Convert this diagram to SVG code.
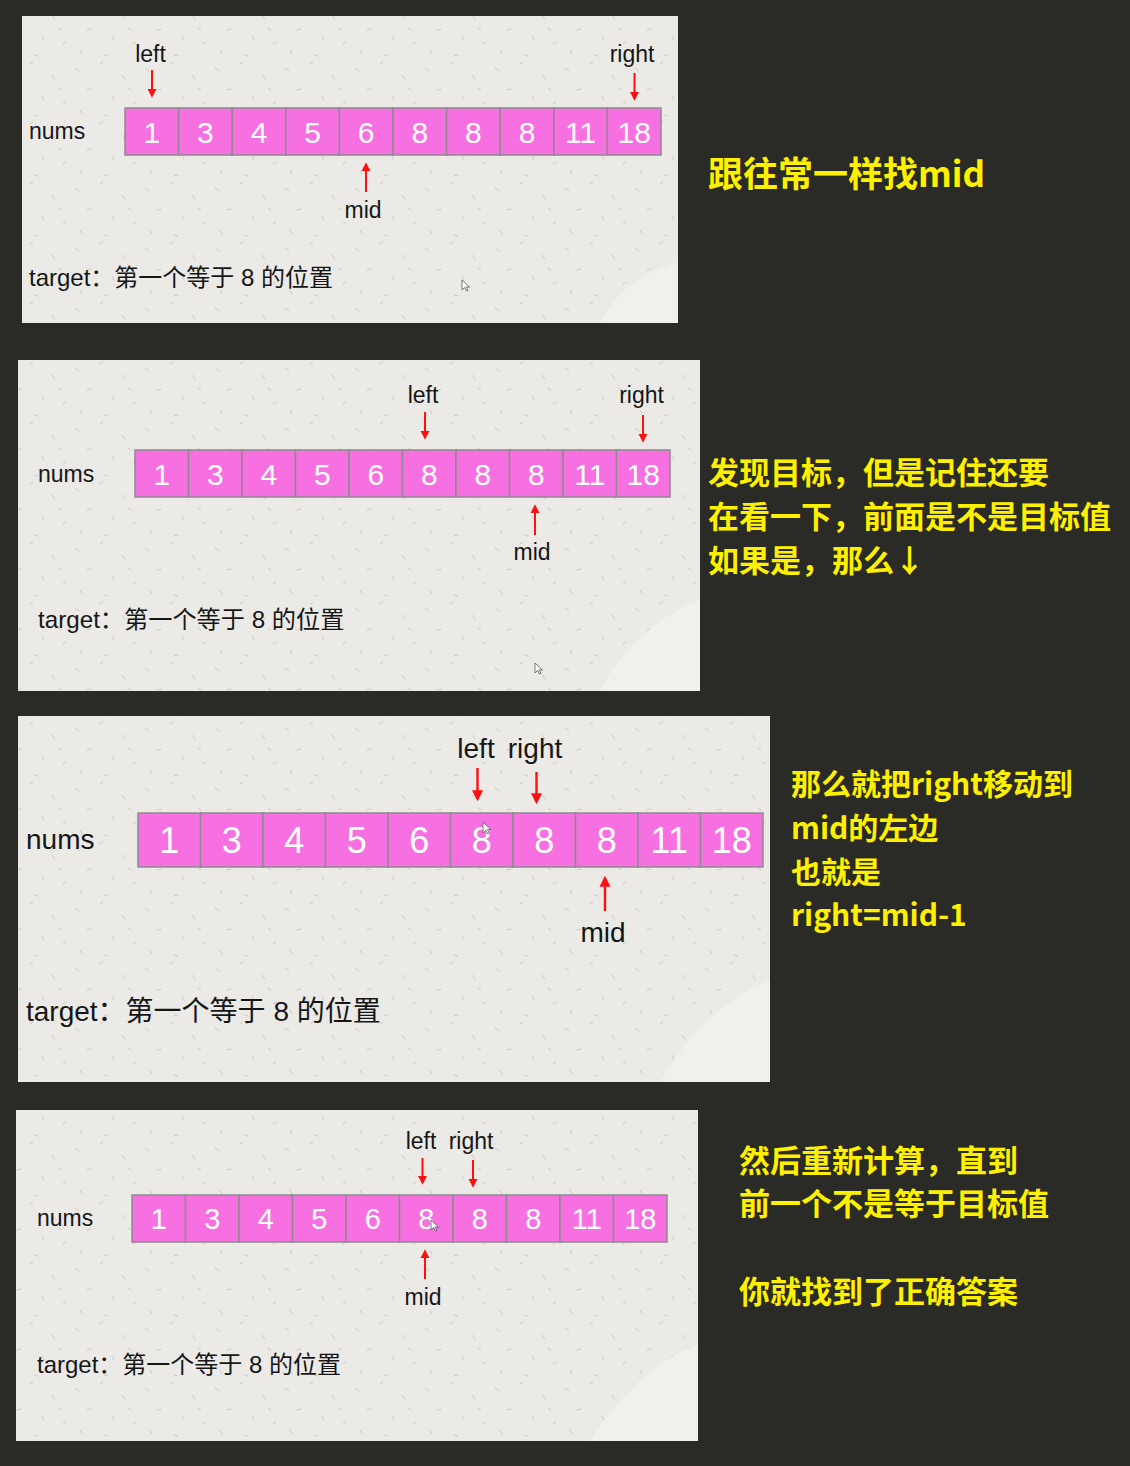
<svg xmlns="http://www.w3.org/2000/svg" width="1130" height="1466" viewBox="0 0 1130 1466">
<style>
.panel{fill:#ebeae7}
.tex{fill:url(#speck)}
.cell{fill:#f770e1;stroke:#8c8c8c;stroke-width:1.5}
.dig{font-family:"Liberation Sans",Arial,sans-serif;fill:#ffffff;text-anchor:middle}
.lbl{font-family:"Liberation Sans",Arial,sans-serif;fill:#161616}
.mid{text-anchor:middle}
.tgt{font-family:"Liberation Sans","Noto Sans CJK SC",sans-serif;fill:#161616}
.arr{stroke:#ff1010;stroke-width:2;fill:none;marker-end:url(#ah)}
.arr3{stroke:#ff1010;stroke-width:2.4;fill:none;marker-end:url(#ah)}
.note{font-family:"Noto Sans CJK SC","Noto Sans",sans-serif;font-weight:700;fill:#fff000}
.cur{fill:#ffffff;stroke:#555;stroke-width:0.8}
.swirl{fill:#f1f0ed}
</style>
<defs>
<marker id="ah" viewBox="0 0 10 10" refX="8" refY="5" markerWidth="4.6" markerHeight="4.6" orient="auto">
<path d="M0,0 L10,5 L0,10 z" fill="#ff1010"/>
</marker>
<pattern id="speck" width="70" height="60" patternUnits="userSpaceOnUse">
<g stroke="#c9c6c0" stroke-width="0.9" stroke-linecap="round">
<line x1="5" y1="8" x2="9" y2="11"/>
<line x1="30" y1="4" x2="33" y2="2"/>
<line x1="52" y1="15" x2="55" y2="19"/>
<line x1="17" y1="30" x2="21" y2="29"/>
<line x1="42" y1="36" x2="44" y2="40"/>
<line x1="63" y1="44" x2="66" y2="42"/>
<line x1="10" y1="50" x2="12" y2="54"/>
<line x1="34" y1="55" x2="38" y2="56"/>
<line x1="58" y1="28" x2="61" y2="30"/>
</g>
</pattern>
</defs>
<rect x="0" y="0" width="1130" height="1466" fill="#2a2a26"/>

<!-- Panel 1 -->
<g id="panel1">
<rect class="panel" x="22" y="16" width="656" height="307"/>
<rect class="tex" x="22" y="16" width="656" height="307"/>
<path class="swirl" d="M600,323 C615,290 650,270 678,262 L678,323 Z"/>
<text class="lbl" x="29" y="139" font-size="23">nums</text>
<g id="p1-array">
<rect class="cell" x="125" y="108" width="53.6" height="47"/>
<rect class="cell" x="178.6" y="108" width="53.6" height="47"/>
<rect class="cell" x="232.2" y="108" width="53.6" height="47"/>
<rect class="cell" x="285.8" y="108" width="53.6" height="47"/>
<rect class="cell" x="339.4" y="108" width="53.6" height="47"/>
<rect class="cell" x="393" y="108" width="53.6" height="47"/>
<rect class="cell" x="446.6" y="108" width="53.6" height="47"/>
<rect class="cell" x="500.2" y="108" width="53.6" height="47"/>
<rect class="cell" x="553.8" y="108" width="53.6" height="47"/>
<rect class="cell" x="607.4" y="108" width="53.6" height="47"/>
<g class="dig" font-size="30">
<text x="151.8" y="142.5">1</text><text x="205.4" y="142.5">3</text><text x="259" y="142.5">4</text><text x="312.6" y="142.5">5</text><text x="366.2" y="142.5">6</text><text x="419.8" y="142.5">8</text><text x="473.4" y="142.5">8</text><text x="527" y="142.5">8</text><text x="580.6" y="142.5">11</text><text x="634.2" y="142.5">18</text>
</g>
</g>
<text class="lbl mid" x="150.5" y="62" font-size="23">left</text>
<text class="lbl mid" x="632" y="62" font-size="23">right</text>
<text class="lbl mid" x="363" y="218" font-size="23">mid</text>
<text class="tgt" x="29" y="286" font-size="24">target：第一个等于 8 的位置</text>
<path class="cur" d="M462,280 L462,290 L464.5,287.5 L466.5,291 L468,290.3 L466,287 L469.5,287 Z"/>
</g>

<!-- Panel 2 -->
<g id="panel2">
<rect class="panel" x="18" y="360" width="682" height="331"/>
<rect class="tex" x="18" y="360" width="682" height="331"/>
<path class="swirl" d="M600,691 C620,650 660,615 700,600 L700,691 Z"/>
<text class="lbl" x="38" y="482" font-size="23">nums</text>
<g id="p2-array">
<rect class="cell" x="135" y="450" width="53.5" height="47"/>
<rect class="cell" x="188.5" y="450" width="53.5" height="47"/>
<rect class="cell" x="242" y="450" width="53.5" height="47"/>
<rect class="cell" x="295.5" y="450" width="53.5" height="47"/>
<rect class="cell" x="349" y="450" width="53.5" height="47"/>
<rect class="cell" x="402.5" y="450" width="53.5" height="47"/>
<rect class="cell" x="456" y="450" width="53.5" height="47"/>
<rect class="cell" x="509.5" y="450" width="53.5" height="47"/>
<rect class="cell" x="563" y="450" width="53.5" height="47"/>
<rect class="cell" x="616.5" y="450" width="53.5" height="47"/>
<g class="dig" font-size="30">
<text x="161.8" y="484.5">1</text><text x="215.3" y="484.5">3</text><text x="268.8" y="484.5">4</text><text x="322.3" y="484.5">5</text><text x="375.8" y="484.5">6</text><text x="429.3" y="484.5">8</text><text x="482.8" y="484.5">8</text><text x="536.3" y="484.5">8</text><text x="589.8" y="484.5">11</text><text x="643.3" y="484.5">18</text>
</g>
</g>
<text class="lbl mid" x="423" y="403" font-size="23">left</text>
<text class="lbl mid" x="641.5" y="403" font-size="23">right</text>
<text class="lbl mid" x="532" y="560" font-size="23">mid</text>
<text class="tgt" x="38" y="628" font-size="24.2">target：第一个等于 8 的位置</text>
<path class="cur" d="M535,663 L535,673 L537.5,670.5 L539.5,674 L541,673.3 L539,670 L542.5,670 Z"/>
</g>

<!-- Panel 3 -->
<g id="panel3">
<rect class="panel" x="18" y="716" width="752" height="366"/>
<rect class="tex" x="18" y="716" width="752" height="366"/>
<path class="swirl" d="M660,1082 C690,1030 730,995 770,980 L770,1082 Z"/>
<text class="lbl" x="26" y="849" font-size="28">nums</text>
<g id="p3-array">
<rect class="cell" x="138" y="813" width="62.5" height="54"/>
<rect class="cell" x="200.5" y="813" width="62.5" height="54"/>
<rect class="cell" x="263" y="813" width="62.5" height="54"/>
<rect class="cell" x="325.5" y="813" width="62.5" height="54"/>
<rect class="cell" x="388" y="813" width="62.5" height="54"/>
<rect class="cell" x="450.5" y="813" width="62.5" height="54"/>
<rect class="cell" x="513" y="813" width="62.5" height="54"/>
<rect class="cell" x="575.5" y="813" width="62.5" height="54"/>
<rect class="cell" x="638" y="813" width="62.5" height="54"/>
<rect class="cell" x="700.5" y="813" width="62.5" height="54"/>
<g class="dig" font-size="36">
<text x="169.3" y="853">1</text><text x="231.8" y="853">3</text><text x="294.3" y="853">4</text><text x="356.8" y="853">5</text><text x="419.3" y="853">6</text><text x="481.8" y="853">8</text><text x="544.3" y="853">8</text><text x="606.8" y="853">8</text><text x="669.3" y="853">11</text><text x="731.8" y="853">18</text>
</g>
</g>
<text class="lbl mid" x="476" y="758" font-size="28">left</text>
<text class="lbl mid" x="535" y="758" font-size="28">right</text>
<text class="lbl mid" x="603" y="942" font-size="28">mid</text>
<text class="tgt" x="26" y="1021" font-size="28">target：第一个等于 8 的位置</text>
<path class="cur" d="M483,822 L483,833 L485.7,830.3 L487.8,834 L489.4,833.2 L487.3,829.6 L491,829.6 Z"/>
</g>

<!-- Panel 4 -->
<g id="panel4">
<rect class="panel" x="16" y="1110" width="682" height="331"/>
<rect class="tex" x="16" y="1110" width="682" height="331"/>
<path class="swirl" d="M590,1441 C615,1400 655,1360 698,1345 L698,1441 Z"/>
<text class="lbl" x="37" y="1226" font-size="23">nums</text>
<g id="p4-array">
<rect class="cell" x="132" y="1195" width="53.5" height="47"/>
<rect class="cell" x="185.5" y="1195" width="53.5" height="47"/>
<rect class="cell" x="239" y="1195" width="53.5" height="47"/>
<rect class="cell" x="292.5" y="1195" width="53.5" height="47"/>
<rect class="cell" x="346" y="1195" width="53.5" height="47"/>
<rect class="cell" x="399.5" y="1195" width="53.5" height="47"/>
<rect class="cell" x="453" y="1195" width="53.5" height="47"/>
<rect class="cell" x="506.5" y="1195" width="53.5" height="47"/>
<rect class="cell" x="560" y="1195" width="53.5" height="47"/>
<rect class="cell" x="613.5" y="1195" width="53.5" height="47"/>
<g class="dig" font-size="29">
<text x="158.8" y="1229">1</text><text x="212.3" y="1229">3</text><text x="265.8" y="1229">4</text><text x="319.3" y="1229">5</text><text x="372.8" y="1229">6</text><text x="426.3" y="1229">8</text><text x="479.8" y="1229">8</text><text x="533.3" y="1229">8</text><text x="586.8" y="1229">11</text><text x="640.3" y="1229">18</text>
</g>
</g>
<text class="lbl mid" x="421" y="1149" font-size="23">left</text>
<text class="lbl mid" x="471" y="1149" font-size="23">right</text>
<text class="lbl mid" x="423" y="1305" font-size="23">mid</text>
<text class="tgt" x="37" y="1373" font-size="24">target：第一个等于 8 的位置</text>
<path class="cur" d="M431,1220 L431,1230 L433.5,1227.5 L435.5,1231 L437,1230.3 L435,1227 L438.5,1227 Z"/>
</g>

<!-- Connectors (pointer arrows) -->
<g id="connectors">
<line class="arr" x1="152" y1="70" x2="152" y2="96"/>
<line class="arr" x1="634.5" y1="73" x2="634.5" y2="99"/>
<line class="arr" x1="366" y1="192" x2="366" y2="164"/>
<line class="arr" x1="425" y1="412" x2="425" y2="438"/>
<line class="arr" x1="643" y1="415" x2="643" y2="441"/>
<line class="arr" x1="535" y1="535" x2="535" y2="506"/>
<line class="arr3" x1="477.5" y1="768" x2="477.5" y2="799"/>
<line class="arr3" x1="536.5" y1="772" x2="536.5" y2="802"/>
<line class="arr3" x1="605" y1="911" x2="605" y2="878"/>
<line class="arr" x1="422.5" y1="1158" x2="422.5" y2="1183"/>
<line class="arr" x1="473" y1="1160" x2="473" y2="1186"/>
<line class="arr" x1="425" y1="1279" x2="425" y2="1251"/>
</g>

<!-- Notes -->
<g id="notes">
<text class="note" x="708" y="187" font-size="35">跟往常一样找mid</text>
<text class="note" font-size="31"><tspan x="708" y="484">发现目标，但是记住还要</tspan><tspan x="708" y="528">在看一下，前面是不是目标值</tspan><tspan x="708" y="572">如果是，那么↓</tspan></text>
<text class="note" font-size="30"><tspan x="791" y="795">那么就把right移动到</tspan><tspan x="791" y="839">mid的左边</tspan><tspan x="791" y="883">也就是</tspan><tspan x="791" y="926">right=mid-1</tspan></text>
<text class="note" font-size="31"><tspan x="739" y="1172">然后重新计算，直到</tspan><tspan x="739" y="1215">前一个不是等于目标值</tspan><tspan x="739" y="1303">你就找到了正确答案</tspan></text>
</g>
</svg>
